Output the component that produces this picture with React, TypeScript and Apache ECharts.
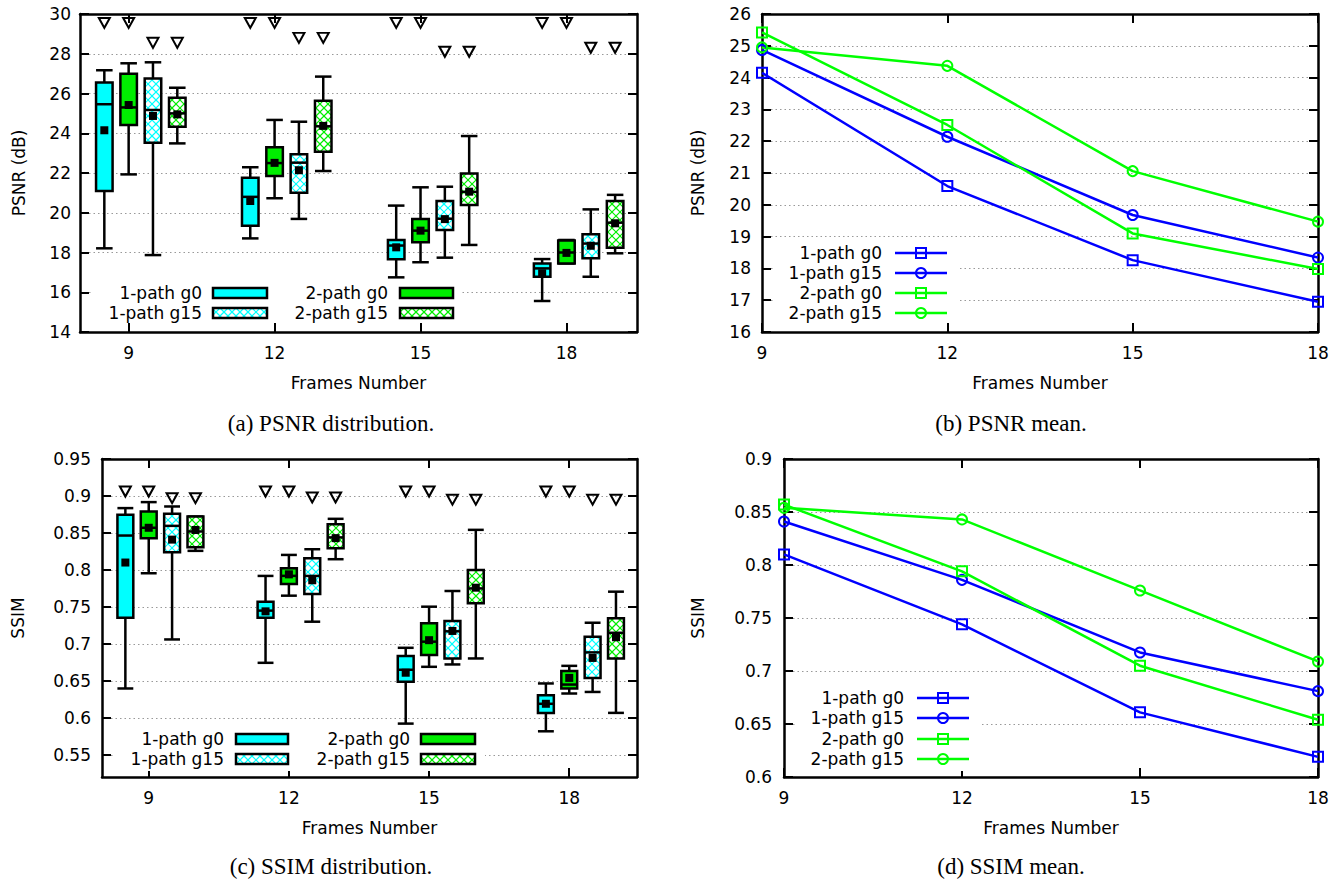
import React, { useEffect, useRef } from 'react';
import * as echarts from 'echarts';

// ---------------- data ----------------
const FRAMES = [9, 12, 15, 18];
const X_TICKS = [9, 12, 15, 18];
const SSIM_DIST_TICKS = [0.55, 0.6, 0.65, 0.7, 0.75, 0.8, 0.85, 0.9, 0.95];

// PSNR distribution: [whisker low, Q1, median, Q3, whisker high] per frame count
const PSNR_BOX_1P_G0 = [
  [18.21, 21.1, 25.46, 26.55, 27.17],
  [18.71, 19.35, 20.8, 21.76, 22.29],
  [16.75, 17.66, 18.35, 18.63, 20.36],
  [15.56, 16.78, 17.2, 17.45, 17.67],
];
const PSNR_BOX_2P_G0 = [
  [21.93, 24.42, 25.3, 27.0, 27.52],
  [20.73, 21.85, 22.5, 23.29, 24.67],
  [17.51, 18.51, 19.1, 19.69, 21.28],
  [17.45, 17.45, 18.0, 18.6, 18.63],
];
const PSNR_BOX_1P_G15 = [
  [17.87, 23.52, 25.17, 26.76, 27.57],
  [19.69, 21.01, 22.52, 22.94, 24.58],
  [17.74, 19.13, 19.7, 20.59, 21.31],
  [16.78, 17.71, 18.45, 18.92, 20.17],
];
const PSNR_BOX_2P_G15 = [
  [23.49, 24.33, 25.0, 25.79, 26.29],
  [22.1, 23.07, 24.35, 25.64, 26.85],
  [18.38, 20.39, 21.05, 21.98, 23.86],
  [17.96, 18.24, 19.5, 20.59, 20.9],
];
// triangle marks above the boxes
const PSNR_MARK_G0 = [29.55, 29.55, 29.55, 29.55];
const PSNR_MARK_G15 = [28.55, 28.8, 28.1, 28.3];

// PSNR mean
const PSNR_MEAN_1P_G0 = [24.15, 20.59, 18.26, 16.95];
const PSNR_MEAN_1P_G15 = [24.87, 22.14, 19.68, 18.34];
const PSNR_MEAN_2P_G0 = [25.42, 22.51, 19.1, 17.98];
const PSNR_MEAN_2P_G15 = [24.95, 24.37, 21.06, 19.47];

// SSIM distribution
const SSIM_BOX_1P_G0 = [
  [0.6397, 0.7354, 0.8465, 0.8745, 0.8836],
  [0.6744, 0.7354, 0.745, 0.757, 0.7919],
  [0.5922, 0.6487, 0.665, 0.6835, 0.6947],
  [0.5818, 0.6067, 0.619, 0.6306, 0.6465],
];
const SSIM_BOX_2P_G0 = [
  [0.7955, 0.843, 0.857, 0.879, 0.8917],
  [0.7652, 0.781, 0.792, 0.8023, 0.8203],
  [0.669, 0.6848, 0.703, 0.7278, 0.7503],
  [0.6329, 0.6397, 0.645, 0.6632, 0.6703],
];
const SSIM_BOX_1P_G15 = [
  [0.706, 0.824, 0.8596, 0.8759, 0.8858],
  [0.73, 0.7675, 0.7919, 0.8159, 0.828],
  [0.6722, 0.6803, 0.717, 0.7309, 0.7715],
  [0.635, 0.654, 0.6885, 0.7096, 0.7286],
];
const SSIM_BOX_2P_G15 = [
  [0.8258, 0.8308, 0.852, 0.8722, 0.8722],
  [0.8145, 0.8294, 0.844, 0.8619, 0.8691],
  [0.6803, 0.7549, 0.775, 0.8, 0.8542],
  [0.6067, 0.6803, 0.715, 0.7346, 0.7706],
];
const SSIM_MARK_G0 = [0.906, 0.906, 0.906, 0.906];
const SSIM_MARK_G15 = [0.897, 0.898, 0.895, 0.895];

// SSIM mean
const SSIM_MEAN_1P_G0 = [0.81, 0.744, 0.661, 0.619];
const SSIM_MEAN_1P_G15 = [0.841, 0.786, 0.7175, 0.681];
const SSIM_MEAN_2P_G0 = [0.857, 0.794, 0.705, 0.654];
const SSIM_MEAN_2P_G15 = [0.854, 0.843, 0.776, 0.709];

const NAME_1P_G0 = '1-path g0';
const NAME_1P_G15 = '1-path g15';
const NAME_2P_G0 = '2-path g0';
const NAME_2P_G15 = '2-path g15';

// ---------------- styles ----------------
const FONT = 'DejaVu Sans';
const FS = 17;
const SERIF = 'Liberation Serif';
const CYAN = '#00ffff';
const GREEN_BOX = '#00ee00';
const BLUE = '#0000ff';
const GREEN = '#00ff00';
const BOX_W = 0.34;
const HATCH_STEP = 8;

const GRIDS = [
  { left: 80, top: 14, width: 557, height: 318 },
  { left: 762, top: 14, width: 556, height: 318 },
  { left: 102, top: 459, width: 535, height: 318 },
  { left: 784, top: 459, width: 534, height: 318 },
];

function hatchSegments(x0: number, y0: number, w: number, h: number, step: number) {
  const segs: number[][] = [];
  const cMin = y0 - (x0 + w);
  const cMax = y0 + h - x0;
  for (let c = Math.ceil(cMin / step) * step; c <= cMax; c += step) {
    const xs = Math.max(x0, y0 - c);
    const xe = Math.min(x0 + w, y0 + h - c);
    if (xe > xs) segs.push([xs, xs + c, xe, xe + c]);
  }
  const dMin = x0 + y0;
  const dMax = x0 + w + y0 + h;
  for (let c = Math.ceil(dMin / step) * step; c <= dMax; c += step) {
    const xs = Math.max(x0, c - (y0 + h));
    const xe = Math.min(x0 + w, c - y0);
    if (xe > xs) segs.push([xs, c - xs, xe, c - xe]);
  }
  return segs;
}

function makeBoxRender(fill: string, hatched: boolean) {
  return function (params: any, api: any) {
    const x = api.value(0);
    const pLo = api.coord([x, api.value(1)]);
    const pQ1 = api.coord([x, api.value(2)]);
    const pMed = api.coord([x, api.value(3)]);
    const pQ3 = api.coord([x, api.value(4)]);
    const pHi = api.coord([x, api.value(5)]);
    const w = api.size([BOX_W, 0])[0];
    const cx = pLo[0];
    const x0 = cx - w / 2;
    const stroke = { stroke: '#000', lineWidth: 2.5 };
    const bh = pQ1[1] - pQ3[1];
    const children: any[] = [
      { type: 'line', shape: { x1: cx, y1: pLo[1], x2: cx, y2: pHi[1] }, style: stroke },
      { type: 'line', shape: { x1: x0, y1: pLo[1], x2: x0 + w, y2: pLo[1] }, style: stroke },
      { type: 'line', shape: { x1: x0, y1: pHi[1], x2: x0 + w, y2: pHi[1] }, style: stroke },
      { type: 'rect', shape: { x: x0, y: pQ3[1], width: w, height: bh }, style: { fill: hatched ? '#fff' : fill } },
    ];
    if (hatched) {
      hatchSegments(x0, pQ3[1], w, bh, HATCH_STEP).forEach((s) =>
        children.push({ type: 'line', shape: { x1: s[0], y1: s[1], x2: s[2], y2: s[3] }, style: { stroke: fill, lineWidth: 1.2 } })
      );
    }
    children.push({ type: 'line', shape: { x1: x0, y1: pMed[1], x2: x0 + w, y2: pMed[1] }, style: stroke });
    children.push({ type: 'rect', shape: { x: x0, y: pQ3[1], width: w, height: bh }, style: { fill: 'none', stroke: '#000', lineWidth: 2.5 } });
    return { type: 'group', children };
  };
}

const tickStyle = { show: true, inside: true, length: 9, lineStyle: { color: '#000', width: 2 } };
const lineStyleAxis = { show: true, onZero: false, lineStyle: { color: '#000', width: 2.5 } };
const labelFont = { fontFamily: FONT, fontSize: FS, color: '#000' };

function xPair(gi: number, cfg: any) {
  const base: any = {
    type: 'value', gridIndex: gi, min: cfg.min, max: cfg.max,
    axisLine: lineStyleAxis, splitLine: { show: false },
  };
  if (cfg.interval) base.interval = cfg.interval;
  const tick: any = cfg.custom ? { ...tickStyle, customValues: cfg.custom } : tickStyle;
  const label: any = { ...labelFont, margin: 12.5, showMinLabel: true, showMaxLabel: true };
  if (cfg.custom) label.customValues = cfg.custom;
  return [
    {
      ...base, position: 'bottom', axisTick: tick, axisLabel: label,
      name: 'Frames Number', nameLocation: 'middle', nameGap: 42.5, nameTextStyle: labelFont,
    },
    { ...base, position: 'top', axisTick: tick, axisLabel: { show: false } },
  ];
}

function yPair(gi: number, cfg: any) {
  const base: any = { type: 'value', gridIndex: gi, min: cfg.min, max: cfg.max, axisLine: lineStyleAxis };
  if (cfg.interval) base.interval = cfg.interval;
  const tick: any = cfg.custom ? { ...tickStyle, customValues: cfg.custom } : tickStyle;
  const label: any = { ...labelFont, margin: cfg.labelMargin, showMinLabel: true, showMaxLabel: true };
  if (cfg.custom) label.customValues = cfg.custom;
  return [
    {
      ...base, position: 'left', axisTick: tick, axisLabel: label,
      splitLine: { show: true, lineStyle: { color: '#999', width: 1, type: [1.5, 3] } },
      name: cfg.name, nameLocation: 'middle', nameGap: cfg.nameGap, nameRotate: 90, nameTextStyle: labelFont,
    },
    { ...base, position: 'right', axisTick: tick, axisLabel: { show: false }, splitLine: { show: false } },
  ];
}

function boxSeries(gi: number, boxes: number[][], means: number[], marks: number[], offset: number, fill: string, hatched: boolean, name: string) {
  const ax = { xAxisIndex: gi * 2, yAxisIndex: gi * 2 };
  return [
    {
      type: 'custom', name, ...ax, renderItem: makeBoxRender(fill, hatched), silent: true, z: 2,
      data: boxes.map((b, i) => [FRAMES[i] + offset, ...b]), encode: { x: 0, y: [1, 2, 3, 4, 5] },
    },
    {
      type: 'scatter', name: name + ' mean', ...ax, silent: true, z: 4,
      data: means.map((m, i) => [FRAMES[i] + offset, m]), symbol: 'rect', symbolSize: 8,
      itemStyle: { color: '#000', opacity: 1 },
    },
    {
      type: 'scatter', name: name + ' mark', ...ax, silent: true, z: 4,
      data: marks.map((m, i) => [FRAMES[i] + offset, m]), symbol: 'triangle', symbolRotate: 180, symbolSize: [11, 10],
      itemStyle: { color: 'rgba(0,0,0,0)', borderColor: '#000', borderWidth: 2, opacity: 1 },
    },
  ];
}

function lineSeries(gi: number, values: number[], color: string, symbol: string, name: string) {
  return {
    type: 'line', name, xAxisIndex: gi * 2, yAxisIndex: gi * 2, silent: true, clip: false, z: 3,
    data: values.map((v, i) => [FRAMES[i], v]), symbol, symbolSize: 10, showAllSymbol: true,
    lineStyle: { color, width: 2.5, opacity: 1 },
    itemStyle: { color: 'rgba(0,0,0,0)', borderColor: color, borderWidth: 2, opacity: 1 },
  };
}

function textEl(x: number, y: number, text: string, align: string) {
  return { type: 'text', x, y, z: 10, style: { text, fontFamily: FONT, fontSize: FS, fill: '#000', align, verticalAlign: 'middle' } };
}

function boxLegendItem(textRight: number, bx: number, bw: number, y: number, label: string, fill: string, hatched: boolean) {
  const els: any[] = [
    textEl(textRight, y, label, 'right'),
    { type: 'rect', z: 10, shape: { x: bx, y: y - 5, width: bw, height: 10 }, style: { fill: hatched ? '#fff' : fill } },
  ];
  if (hatched) {
    hatchSegments(bx, y - 5, bw, 10, HATCH_STEP).forEach((s) =>
      els.push({ type: 'line', z: 10, shape: { x1: s[0], y1: s[1], x2: s[2], y2: s[3] }, style: { stroke: fill, lineWidth: 1.2 } })
    );
  }
  els.push({ type: 'rect', z: 10, shape: { x: bx, y: y - 5, width: bw, height: 10 }, style: { fill: 'none', stroke: '#000', lineWidth: 2.5 } });
  return els;
}

function lineLegendItem(textRight: number, lx1: number, lx2: number, mx: number, y: number, label: string, color: string, square: boolean) {
  return [
    textEl(textRight, y, label, 'right'),
    { type: 'line', z: 10, shape: { x1: lx1, y1: y, x2: lx2, y2: y }, style: { stroke: color, lineWidth: 2.5 } },
    square
      ? { type: 'rect', z: 10, shape: { x: mx - 5, y: y - 5, width: 10, height: 10 }, style: { fill: 'none', stroke: color, lineWidth: 2 } }
      : { type: 'circle', z: 10, shape: { cx: mx, cy: y, r: 5 }, style: { fill: 'none', stroke: color, lineWidth: 2 } },
  ];
}

function bgRect(x1: number, y1: number, x2: number, y2: number) {
  return { type: 'rect', z: 1, shape: { x: x1, y: y1, width: x2 - x1, height: y2 - y1 }, style: { fill: '#fff' } };
}

function caption(x: number, y: number, text: string) {
  return { type: 'text', x, y, style: { text, fontFamily: SERIF, fontSize: 23, fill: '#000', align: 'center', verticalAlign: 'middle' } };
}

function buildOption() {
  const xAxis: any[] = [
    ...xPair(0, { min: 8, max: 19.45, custom: X_TICKS }),
    ...xPair(1, { min: 9, max: 18, interval: 3 }),
    ...xPair(2, { min: 8, max: 19.45, custom: X_TICKS }),
    ...xPair(3, { min: 9, max: 18, interval: 3 }),
  ];
  const yAxis: any[] = [
    ...yPair(0, { min: 14, max: 30, interval: 2, name: 'PSNR (dB)', nameGap: 53, labelMargin: 9 }),
    ...yPair(1, { min: 16, max: 26, interval: 1, name: 'PSNR (dB)', nameGap: 56, labelMargin: 11 }),
    ...yPair(2, { min: 0.52, max: 0.95, custom: SSIM_DIST_TICKS, name: 'SSIM', nameGap: 76, labelMargin: 11 }),
    ...yPair(3, { min: 0.6, max: 0.9, interval: 0.05, name: 'SSIM', nameGap: 78, labelMargin: 12 }),
  ];
  const series: any[] = [
    ...boxSeries(0, PSNR_BOX_1P_G0, PSNR_MEAN_1P_G0, PSNR_MARK_G0, -0.5, CYAN, false, NAME_1P_G0),
    ...boxSeries(0, PSNR_BOX_2P_G0, PSNR_MEAN_2P_G0, PSNR_MARK_G0, 0, GREEN_BOX, false, NAME_2P_G0),
    ...boxSeries(0, PSNR_BOX_1P_G15, PSNR_MEAN_1P_G15, PSNR_MARK_G15, 0.5, CYAN, true, NAME_1P_G15),
    ...boxSeries(0, PSNR_BOX_2P_G15, PSNR_MEAN_2P_G15, PSNR_MARK_G15, 1, GREEN_BOX, true, NAME_2P_G15),
    lineSeries(1, PSNR_MEAN_1P_G0, BLUE, 'rect', NAME_1P_G0),
    lineSeries(1, PSNR_MEAN_1P_G15, BLUE, 'circle', NAME_1P_G15),
    lineSeries(1, PSNR_MEAN_2P_G0, GREEN, 'rect', NAME_2P_G0),
    lineSeries(1, PSNR_MEAN_2P_G15, GREEN, 'circle', NAME_2P_G15),
    ...boxSeries(2, SSIM_BOX_1P_G0, SSIM_MEAN_1P_G0, SSIM_MARK_G0, -0.5, CYAN, false, NAME_1P_G0),
    ...boxSeries(2, SSIM_BOX_2P_G0, SSIM_MEAN_2P_G0, SSIM_MARK_G0, 0, GREEN_BOX, false, NAME_2P_G0),
    ...boxSeries(2, SSIM_BOX_1P_G15, SSIM_MEAN_1P_G15, SSIM_MARK_G15, 0.5, CYAN, true, NAME_1P_G15),
    ...boxSeries(2, SSIM_BOX_2P_G15, SSIM_MEAN_2P_G15, SSIM_MARK_G15, 1, GREEN_BOX, true, NAME_2P_G15),
    lineSeries(3, SSIM_MEAN_1P_G0, BLUE, 'rect', NAME_1P_G0),
    lineSeries(3, SSIM_MEAN_1P_G15, BLUE, 'circle', NAME_1P_G15),
    lineSeries(3, SSIM_MEAN_2P_G0, GREEN, 'rect', NAME_2P_G0),
    lineSeries(3, SSIM_MEAN_2P_G15, GREEN, 'circle', NAME_2P_G15),
  ];

  const graphic: any[] = [
    // (a) legend
    bgRect(92, 282, 460, 323),
    ...boxLegendItem(202, 213, 54, 293, NAME_1P_G0, CYAN, false),
    ...boxLegendItem(202, 213, 54, 313, NAME_1P_G15, CYAN, true),
    ...boxLegendItem(388, 400, 53, 293, NAME_2P_G0, GREEN_BOX, false),
    ...boxLegendItem(388, 400, 53, 313, NAME_2P_G15, GREEN_BOX, true),
    // (b) legend
    bgRect(773, 242, 958, 322),
    ...lineLegendItem(882, 895, 947, 921, 253, NAME_1P_G0, BLUE, true),
    ...lineLegendItem(882, 895, 947, 921, 273, NAME_1P_G15, BLUE, false),
    ...lineLegendItem(882, 895, 947, 921, 293, NAME_2P_G0, GREEN, true),
    ...lineLegendItem(882, 895, 947, 921, 313, NAME_2P_G15, GREEN, false),
    // (c) legend
    bgRect(114, 728, 485, 771),
    ...boxLegendItem(224, 236, 52, 739, NAME_1P_G0, CYAN, false),
    ...boxLegendItem(224, 236, 52, 759, NAME_1P_G15, CYAN, true),
    ...boxLegendItem(410, 421, 54, 739, NAME_2P_G0, GREEN_BOX, false),
    ...boxLegendItem(410, 421, 54, 759, NAME_2P_G15, GREEN_BOX, true),
    // (d) legend
    bgRect(796, 687, 980, 771),
    ...lineLegendItem(904, 917, 969, 943, 698, NAME_1P_G0, BLUE, true),
    ...lineLegendItem(904, 917, 969, 943, 718, NAME_1P_G15, BLUE, false),
    ...lineLegendItem(904, 917, 969, 943, 739, NAME_2P_G0, GREEN, true),
    ...lineLegendItem(904, 917, 969, 943, 759, NAME_2P_G15, GREEN, false),
    // captions
    caption(331, 423, '(a) PSNR distribution.'),
    caption(1011, 423, '(b) PSNR mean.'),
    caption(331, 866, '(c) SSIM distribution.'),
    caption(1011, 866, '(d) SSIM mean.'),
  ];

  return {
    animation: false,
    backgroundColor: '#fff',
    textStyle: { fontFamily: FONT },
    grid: GRIDS.map((g) => ({ ...g, show: false, containLabel: false, outerBoundsMode: 'none' })),
    xAxis,
    yAxis,
    series,
    graphic,
  };
}

export default function App() {
  const ref = useRef<HTMLDivElement>(null);
  useEffect(() => {
    const chart = echarts.init(ref.current as HTMLDivElement, null, { renderer: 'svg' });
    chart.setOption(buildOption() as any);
    return () => chart.dispose();
  }, []);
  return (
    <div
      ref={ref}
      style={{ position: 'fixed', left: 0, top: 0, width: 1343, height: 884, background: '#fff' }}
    />
  );
}
